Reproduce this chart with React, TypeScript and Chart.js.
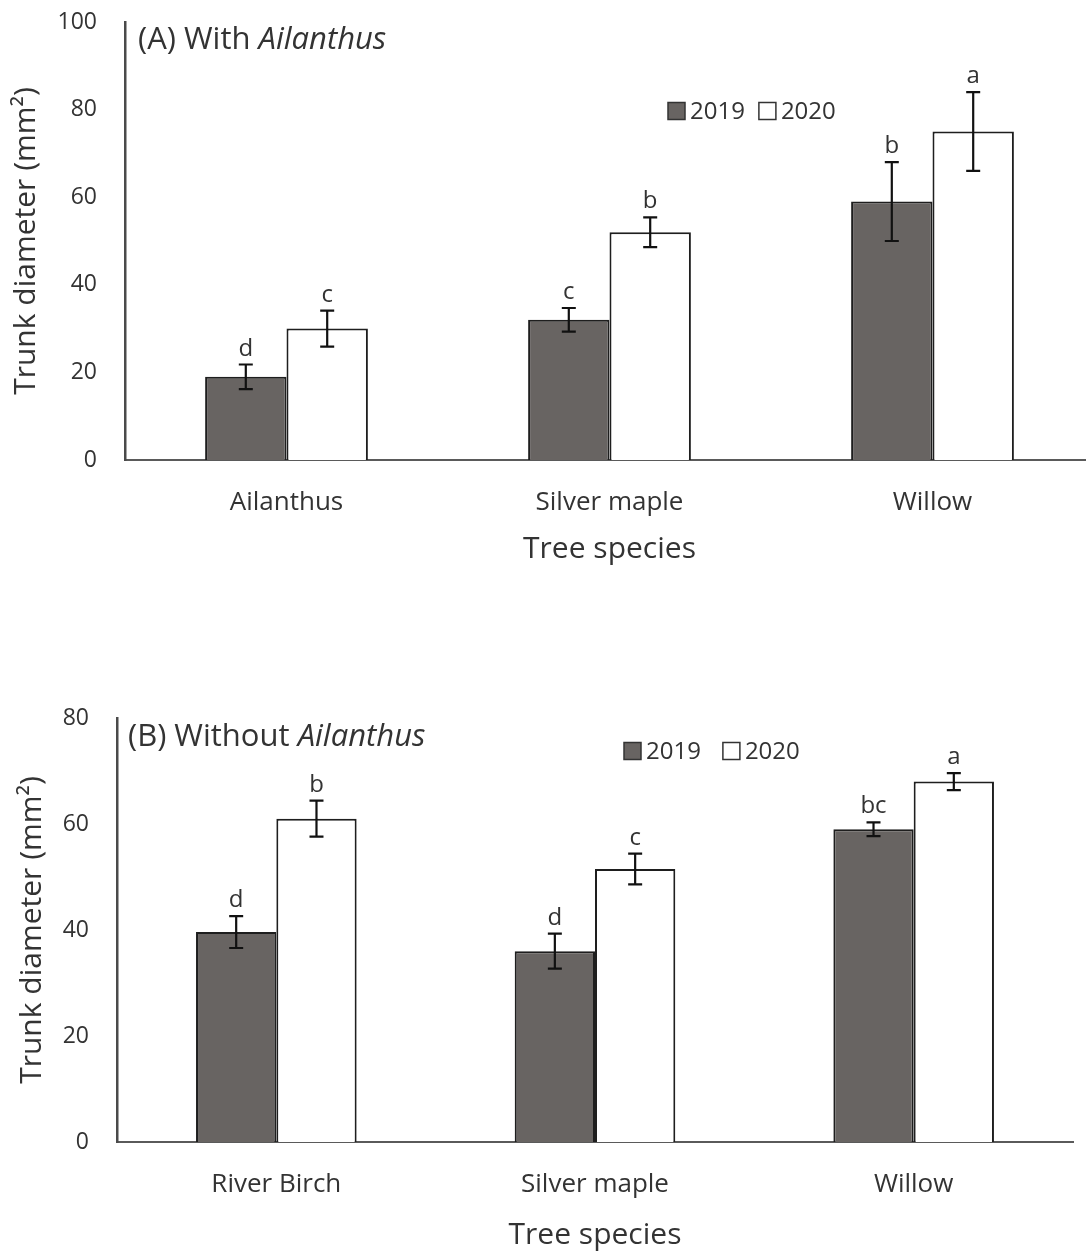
import React, { useEffect, useRef } from "react";
import { Chart, registerables } from "chart.js";

Chart.register(...registerables);

// ---------- data ----------
const seriesLabels = ["2019", "2020"];

const categoriesA = ["Ailanthus", "Silver maple", "Willow"];
const valuesA2019 = [19, 32, 59];
const valuesA2020 = [30, 52, 75];
const errorsA2019 = [2.8, 2.7, 9];
const errorsA2020 = [4.1, 3.4, 9];
const lettersA2019 = ["d", "c", "b"];
const lettersA2020 = ["c", "b", "a"];
const yMaxA = 100;

const categoriesB = ["River Birch", "Silver maple", "Willow"];
const valuesB2019 = [39.6, 36, 59];
const valuesB2020 = [61, 51.5, 68];
const errorsB2019 = [3, 3.3, 1.3];
const errorsB2020 = [3.4, 2.9, 1.6];
const lettersB2019 = ["d", "d", "bc"];
const lettersB2020 = ["b", "c", "a"];
const yMaxB = 80;

const yStep = 20;
const xAxisTitle = "Tree species";
const yAxisTitle = "Trunk diameter (mm²)";

const FONT = "'Open Sans', Lato, sans-serif";
const TEXT = "#333333";
const DARK_FILL = "#686462";
const BAR_BORDER = "#1e1e1e";

// ---------- plugins ----------
const errorBarPlugin = {
  id: "errorBars",
  afterDatasetsDraw(chart: any, _args: any, opts: any) {
    const ctx = chart.ctx;
    const y = chart.scales.y;
    chart.data.datasets.forEach((ds: any, i: number) => {
      const meta = chart.getDatasetMeta(i);
      const errs = opts.errors[i];
      const letters = opts.letters[i];
      meta.data.forEach((el: any, j: number) => {
        const v = ds.data[j];
        const e = errs[j];
        const x = el.x;
        const yt = y.getPixelForValue(v + e);
        const yb = y.getPixelForValue(v - e);
        ctx.save();
        ctx.strokeStyle = "#111";
        ctx.lineWidth = 2.2;
        ctx.beginPath();
        ctx.moveTo(x, yt);
        ctx.lineTo(x, yb);
        ctx.moveTo(x - 7, yt);
        ctx.lineTo(x + 7, yt);
        ctx.moveTo(x - 7, yb);
        ctx.lineTo(x + 7, yb);
        ctx.stroke();
        ctx.fillStyle = TEXT;
        ctx.font = `24px ${FONT}`;
        ctx.textAlign = "center";
        ctx.textBaseline = "alphabetic";
        ctx.fillText(letters[j], x, yt - 9);
        ctx.restore();
      });
    });
  },
};

const annotatePlugin = {
  id: "annotate",
  afterDraw(chart: any, _args: any, opts: any) {
    const ctx = chart.ctx;
    ctx.save();
    // panel title with italic part
    ctx.fillStyle = TEXT;
    ctx.textBaseline = "middle";
    ctx.textAlign = "left";
    ctx.font = `31px ${FONT}`;
    ctx.fillText(opts.titleRegular, opts.titleX, opts.titleY);
    const w = ctx.measureText(opts.titleRegular).width;
    ctx.font = `italic 31px ${FONT}`;
    ctx.fillText(opts.titleItalic, opts.titleX + w, opts.titleY);

    // legend
    let lx = opts.legendX;
    const ly = opts.legendY;
    const box = 17;
    ctx.font = `24px ${FONT}`;
    chart.data.datasets.forEach((ds: any) => {
      ctx.fillStyle = ds.backgroundColor;
      ctx.fillRect(lx, ly - box / 2, box, box);
      ctx.strokeStyle = "#333";
      ctx.lineWidth = 1.5;
      ctx.strokeRect(lx, ly - box / 2, box, box);
      ctx.fillStyle = TEXT;
      ctx.fillText(ds.label, lx + box + 5, ly + 1);
      lx += box + 5 + ctx.measureText(ds.label).width + opts.legendGap;
    });
    ctx.restore();
  },
};

// ---------- panel ----------
type PanelProps = {
  width: number;
  height: number;
  top: number;
  categories: string[];
  v2019: number[];
  v2020: number[];
  e2019: number[];
  e2020: number[];
  l2019: string[];
  l2020: string[];
  yMax: number;
  areaLeft: number;
  areaTop: number;
  areaBottom: number;
  padRight: number;
  yTitlePad: number;
  xTitlePad: number;
  titleRegular: string;
  titleItalic: string;
  titleX: number;
  titleY: number;
  legendX: number;
  legendY: number;
  legendGap: number;
};

function Panel(p: PanelProps) {
  const ref = useRef<HTMLCanvasElement | null>(null);
  useEffect(() => {
    if (!ref.current) return;
    const chart = new Chart(ref.current, {
      type: "bar",
      data: {
        labels: p.categories,
        datasets: [
          {
            label: seriesLabels[0],
            data: p.v2019,
            backgroundColor: DARK_FILL,
            borderColor: BAR_BORDER,
            borderWidth: 2,
            barPercentage: 1,
            categoryPercentage: 0.504,
          },
          {
            label: seriesLabels[1],
            data: p.v2020,
            backgroundColor: "#ffffff",
            borderColor: BAR_BORDER,
            borderWidth: 2,
            barPercentage: 1,
            categoryPercentage: 0.504,
          },
        ],
      },
      options: {
        responsive: false,
        animation: false,
        layout: {
          padding: { top: p.areaTop, right: p.padRight, left: 0, bottom: 0 },
        },
        plugins: {
          legend: { display: false },
          tooltip: { enabled: false },
          errorBars: { errors: [p.e2019, p.e2020], letters: [p.l2019, p.l2020] },
          annotate: {
            titleRegular: p.titleRegular,
            titleItalic: p.titleItalic,
            titleX: p.titleX,
            titleY: p.titleY,
            legendX: p.legendX,
            legendY: p.legendY,
            legendGap: p.legendGap,
          },
        } as any,
        scales: {
          x: {
            grid: { display: false, drawTicks: false },
            border: { display: true, color: "#5a5a5a", width: 2 },
            ticks: {
              color: TEXT,
              font: { family: FONT, size: 26 },
              padding: 27,
              maxRotation: 0,
            },
            title: {
              display: true,
              text: xAxisTitle,
              color: TEXT,
              font: { family: FONT, size: 30 },
              padding: { top: 0, bottom: p.xTitlePad },
            },
            afterFit: (s: any) => {
              s.height = p.height - p.areaBottom;
              s.paddingLeft = 0;
              s.paddingRight = 0;
            },
          },
          y: {
            min: 0,
            max: p.yMax,
            grid: { display: false, drawTicks: false },
            border: { display: true, color: "#4a4a4a", width: 2.5 },
            ticks: {
              stepSize: yStep,
              color: TEXT,
              font: { family: FONT, size: 23 },
              padding: 28,
            },
            title: {
              display: true,
              text: yAxisTitle,
              color: TEXT,
              font: { family: FONT, size: 30 },
              padding: { top: p.yTitlePad, bottom: 0 },
            },
            afterFit: (s: any) => {
              s.width = p.areaLeft;
              s.paddingTop = 0;
              s.paddingBottom = 0;
            },
          },
        },
      },
      plugins: [errorBarPlugin, annotatePlugin],
    } as any);
    return () => chart.destroy();
  }, []);
  return (
    <div
      style={{
        position: "absolute",
        left: 0,
        top: p.top,
        width: p.width,
        height: p.height,
      }}
    >
      <canvas
        ref={ref}
        width={p.width}
        height={p.height}
        style={{ display: "block", width: p.width, height: p.height }}
      />
    </div>
  );
}

export default function App() {
  return (
    <div
      style={{
        position: "absolute",
        left: 0,
        top: 0,
        width: 1086,
        height: 1255,
        overflow: "hidden",
        background: "#ffffff",
      }}
    >
      <Panel
        width={1100}
        height={580}
        top={0}
        categories={categoriesA}
        v2019={valuesA2019}
        v2020={valuesA2020}
        e2019={errorsA2019}
        e2020={errorsA2020}
        l2019={lettersA2019}
        l2020={lettersA2020}
        yMax={yMaxA}
        areaLeft={125}
        areaTop={22}
        areaBottom={460}
        padRight={6}
        yTitlePad={8}
        xTitlePad={13}
        titleRegular="(A) With "
        titleItalic="Ailanthus"
        titleX={138}
        titleY={40}
        legendX={668}
        legendY={111}
        legendGap={14}
      />
      <Panel
        width={1086}
        height={675}
        top={580}
        categories={categoriesB}
        v2019={valuesB2019}
        v2020={valuesB2020}
        e2019={errorsB2019}
        e2020={errorsB2020}
        l2019={lettersB2019}
        l2020={lettersB2020}
        yMax={yMaxB}
        areaLeft={117}
        areaTop={138}
        areaBottom={562}
        padRight={13}
        yTitlePad={14}
        xTitlePad={2}
        titleRegular="(B) Without "
        titleItalic="Ailanthus"
        titleX={128}
        titleY={157}
        legendX={624}
        legendY={171}
        legendGap={22}
      />
    </div>
  );
}
